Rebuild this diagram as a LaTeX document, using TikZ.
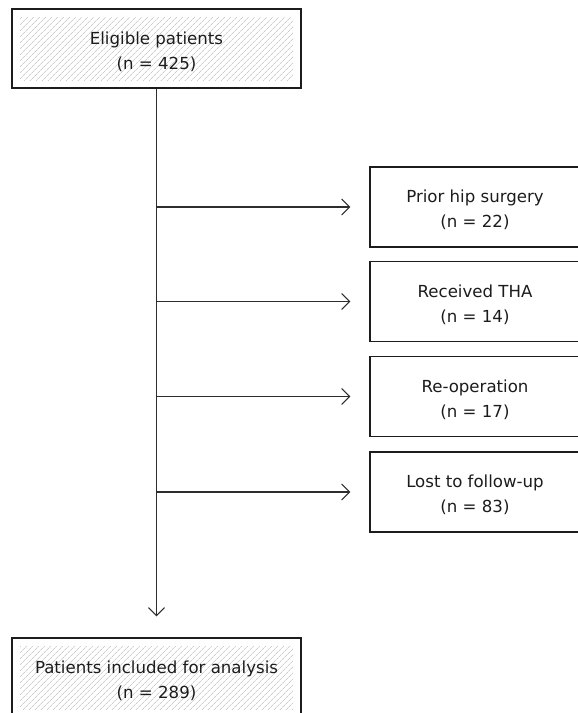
\documentclass[tikz,border=0pt]{standalone}
\usepackage{fontspec}
\setmainfont{DejaVu Sans}
\usepackage{tikz}
\usetikzlibrary{arrows.meta, positioning, calc, patterns.meta}
\definecolor{mydark}{RGB}{28,28,28}
\definecolor{myline}{RGB}{45,45,45}
\definecolor{myhatch}{RGB}{205,205,205}
\tikzset{
  hatch/.style={pattern={Lines[angle=45, distance=4pt, line width=0.7pt]},
    pattern color=myhatch},
  boxtext/.style={align=center, text=mydark,
    font=\fontsize{16.6}{25}\selectfont},
  mainbox/.style={rectangle, draw=mydark, line width=1.3pt, fill=white,
    minimum width=289pt, minimum height=79pt, boxtext,
    path picture={\fill[hatch]
      ($(path picture bounding box.north west)+(8pt,-8pt)$) rectangle
      ($(path picture bounding box.south east)+(-8pt,8pt)$);}},
  exclbox/.style={rectangle, draw=mydark, line width=1.1pt, fill=white,
    minimum width=210pt, minimum height=80pt, boxtext},
  arrow/.style={-{Straight Barb[length=8pt, width=16pt, line width=1.1pt]},
    line width=1.1pt, color=myline}
}
\newcommand{\twolines}[2]{\rule{0pt}{19pt}#1\\#2}

\begin{document}
\begin{tikzpicture}[x=1pt, y=-1pt]
  \clip (0,0) rectangle (578,713);

  % Main boxes
  \node[mainbox] (eligible) at (156.5,48.5) {\twolines{Eligible patients}{(n = 425)}};
  \node[mainbox] (included) at (156.5,677.5) {\twolines{Patients included for analysis}{(n = 289)}};

  % Exclusion boxes
  \node[exclbox] (prior)  at (475,207)   {\twolines{Prior hip surgery}{(n = 22)}};
  \node[exclbox] (tha)    at (475,301.5) {\twolines{Received THA}{(n = 14)}};
  \node[exclbox] (reop)   at (475,396.5) {\twolines{Re-operation}{(n = 17)}};
  \node[exclbox] (lost)   at (475,492)   {\twolines{Lost to follow-up}{(n = 83)}};

  % Main flow
  \draw[arrow, shorten >=21pt] (eligible.south) -- (included.north);

  % Exclusions
  \foreach \b in {prior, tha, reop, lost}
    \draw[arrow, shorten >=19pt] (eligible.south |- \b.west) -- (\b.west);
\end{tikzpicture}
\end{document}
